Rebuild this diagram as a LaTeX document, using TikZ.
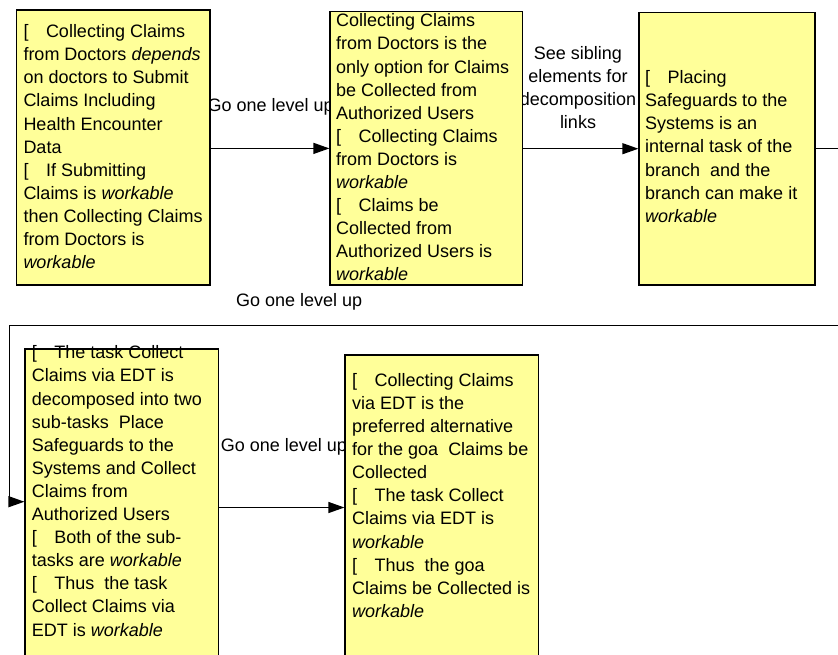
\documentclass[tikz,border=0pt]{standalone}
\usepackage{fontspec}
\setmainfont{Liberation Sans}
\usetikzlibrary{arrows.meta}
\definecolor{notefill}{HTML}{FFFF99}
% bullet glyph followed by the tab gap
\newcommand{\bl}{\makebox[22.5pt][l]{[}}

\begin{document}
\begin{tikzpicture}[x=1pt,y=-1pt,
  note/.style={draw=black, fill=notefill, line width=1.3pt, inner sep=0pt, rectangle},
  notetext/.style={anchor=north west, inner sep=0pt, align=left, font=\fontsize{18}{23.1}\selectfont},
  lbl/.style={inner sep=0pt, font=\fontsize{18}{22.9}\selectfont},
  link/.style={line width=1.3pt, -{Triangle[length=16pt,width=11pt]}},
  wire/.style={line width=1.3pt},
]
\useasboundingbox (0,0) rectangle (838,654);
\clip (0,0) rectangle (838,654);

% connector labels (drawn first so the notes overlap them)
\node[lbl, anchor=base west] (l1) at (207.3,111.7) {Go one level up};
\node[lbl, anchor=north, align=center] (l2) at (578,46.4) {See sibling\\elements for\\decomposition\\links};
\node[lbl, anchor=base west] (l3) at (236,306) {Go one level up};
\node[lbl, anchor=base west] (l4) at (220.7,451.7) {Go one level up};

% note boxes
\node[note, minimum width=193.3pt, minimum height=275pt] (b1) at (113.4,147.5) {};
\node[note, minimum width=192.7pt, minimum height=273.3pt] (b2) at (426.4,148.4) {};
\node[note, minimum width=176pt, minimum height=272.7pt] (b3) at (727,148.7) {};
\node[note, minimum width=193.3pt, minimum height=311pt] (b4) at (121.7,504.5) {};
\node[note, minimum width=193.3pt, minimum height=305pt] (b5) at (441.7,507.5) {};

% routing points of the wrap-around connector
\coordinate (w1) at (850,148.7);
\coordinate (w2) at (9.3,325.5);
\coordinate (w3) at (9.3,501.7);

% connectors
\draw[link] (b1.east |- b2.west) -- (b2.west);
\draw[link] (b2.east |- b3.west) -- (b3.west);
\draw[link] (b3.east) -- (w1) -- (w1 |- w2) -- (w2) -- (w3) -- (b4.west |- w3);
\draw[link] (b4.east |- b5.west) -- (b5.west);

% note texts
\node[notetext] (t1) at (23.3,24.4) {\bl Collecting Claims\\
from Doctors \textit{depends}\\
on doctors to Submit\\
Claims Including\\
Health Encounter\\
Data\\
\bl If Submitting\\
Claims is \textit{workable}\\
then Collecting Claims\\
from Doctors is\\
\textit{workable}};

\node[notetext] (t2) at (336,13.6) {Collecting Claims\\
from Doctors is the\\
only option for Claims\\
be Collected from\\
Authorized Users\\
\bl Collecting Claims\\
from Doctors is\\
\textit{workable}\\
\bl Claims be\\
Collected from\\
Authorized Users is\\
\textit{workable}};

\node[notetext] (t3) at (645,70.4) {\bl Placing\\
Safeguards to the\\
Systems is an\\
internal task of the\\
branch\ \ and the\\
branch can make it\\
\textit{workable}};

\node[notetext] (t4) at (31.7,345.6) {\bl The task Collect\\
Claims via EDT is\\
decomposed into two\\
sub-tasks\ \ Place\\
Safeguards to the\\
Systems and Collect\\
Claims from\\
Authorized Users\\
\bl Both of the sub-\\
tasks are \textit{workable}\\
\bl Thus\ \ the task\\
Collect Claims via\\
EDT is \textit{workable}};

\node[notetext] (t5) at (352,373.1) {\bl Collecting Claims\\
via EDT is the\\
preferred alternative\\
for the goa\ \ Claims be\\
Collected\\
\bl The task Collect\\
Claims via EDT is\\
\textit{workable}\\
\bl Thus\ \ the goa\\
Claims be Collected is\\
\textit{workable}};
\end{tikzpicture}
\end{document}
